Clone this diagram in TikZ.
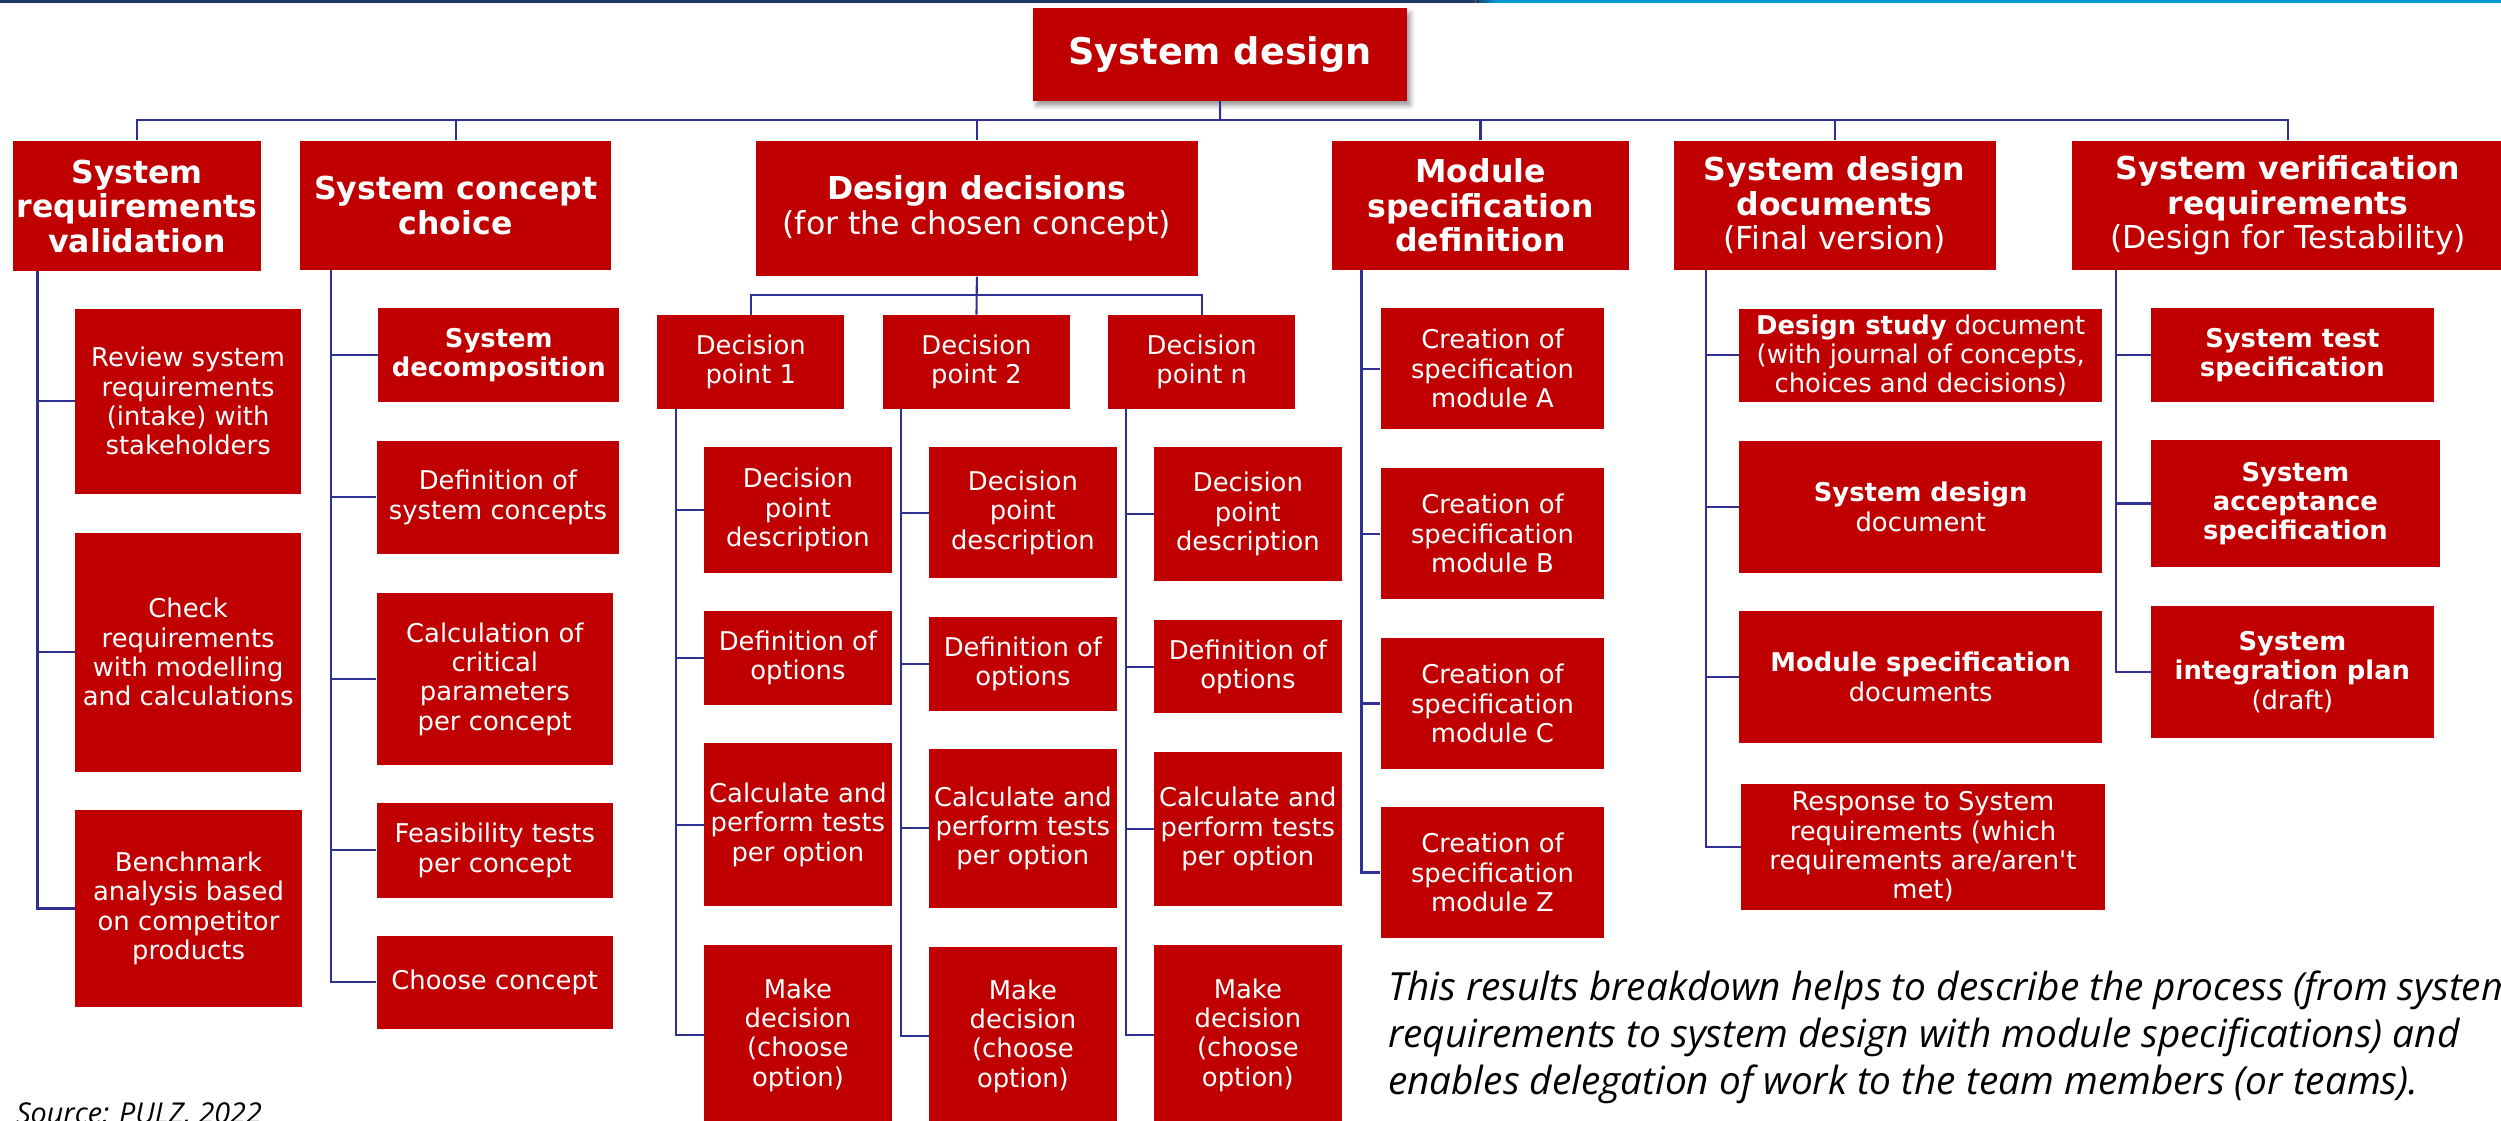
\documentclass[tikz,border=0pt]{standalone}
\usepackage{fontspec}
\setmainfont{DejaVu Sans}[Ligatures=TeXOff]
\newfontfamily\capfont{Open Sans}
\usetikzlibrary{shadows.blur}
\definecolor{boxred}{RGB}{192,0,0}
\definecolor{conncol}{RGB}{46,49,146}
\definecolor{barnavy}{RGB}{31,56,100}
\definecolor{barblue}{RGB}{0,153,214}
\newcommand{\bodyfont}{\fontsize{16.2}{18.4}\selectfont}
\newcommand{\headfont}{\fontsize{19.8}{21.6}\selectfont\bfseries}
\newcommand{\bx}[7][]{\node[rbox,minimum width={#5-#3},minimum height={#6-#4},#1] (#2) at (#3,#4) {#7};}
\begin{document}
\begin{tikzpicture}[x=1pt,y=-1pt,
  rbox/.style={fill=boxred,text=white,inner sep=0pt,align=center,font=\bodyfont,anchor=north west},
  hbox/.style={font=\headfont},
  link/.style={draw=conncol,line width=1.3pt},
  notefont/.style={font=\capfont\itshape\fontsize{24.3}{30}\selectfont,anchor=base west,inner sep=0pt}]
\useasboundingbox (0,0) rectangle (1568,702.2);
\clip (0,0) rectangle (1568,702.2);
% top bar
\fill[barnavy] (0,0) rectangle (925,1.7);
\shade[left color=barnavy,right color=barblue] (925,0) rectangle (938,1.7);
\fill[barblue] (938,0) rectangle (1568,1.7);
% root
\bx[font=\fontsize{23}{26}\selectfont\bfseries,blur shadow={shadow xshift=2pt,shadow yshift=-3pt,shadow blur radius=3pt}]{root}{647.5}{5}{882}{63}{System design}
% level 1
\bx[hbox]{hA}{8}{88}{163.5}{170}{System\\requirements\\validation}
\bx[hbox]{hB}{188}{88}{383}{169}{System concept\\choice}
\bx[hbox]{hC}{473.5}{88}{751}{173}{Design decisions\\{\mdseries(for the chosen concept)}}
\bx[hbox]{hD}{835}{88}{1021}{169}{Module\\specification\\definition}
\bx[hbox]{hE}{1049}{88}{1251}{169}{System design\\documents\\{\mdseries(Final version)}}
\bx[hbox]{hF}{1298.7}{88}{1570}{169}{System verification\\requirements\\{\mdseries(Design for Testability)}}
% column A
\bx{a1}{47}{193.6}{188.5}{309.2}{Review system\\requirements\\(intake) with\\stakeholders}
\bx{a2}{47}{334}{188.5}{483.5}{Check\\requirements\\with modelling\\and calculations}
\bx{a3}{47}{507.7}{189}{631}{Benchmark\\analysis based\\on competitor\\products}
% column B
\bx{b1}{237}{193}{388}{252.1}{\textbf{System}\\\textbf{decomposition}}
\bx{b2}{236}{276}{388}{347.2}{Definition of\\system concepts}
\bx{b3}{236}{371.7}{384}{479.5}{Calculation of\\critical\\parameters\\per concept}
\bx{b4}{236}{503.4}{384}{562.5}{Feasibility tests\\per concept}
\bx{b5}{236}{586.3}{384}{645.1}{Choose concept}
% column C
\bx{dp1}{412}{197.3}{529}{256.1}{Decision\\point 1}
\bx{dp2}{553.5}{197.3}{670.5}{256.1}{Decision\\point 2}
\bx{dpn}{694.6}{197.3}{811.8}{256.1}{Decision\\point n}
\bx{d1a}{441.3}{280.3}{558.8}{358.9}{Decision\\point\\description}
\bx{d1b}{441.3}{383.1}{558.8}{441.5}{Definition of\\options}
\bx{d1c}{441.3}{465.7}{558.8}{567.8}{Calculate and\\perform tests\\per option}
\bx{d1d}{441.3}{592.4}{558.8}{705}{Make\\decision\\(choose\\option)}
\bx{d2a}{582.4}{280.3}{699.8}{362}{Decision\\point\\description}
\bx{d2b}{582.4}{386.8}{699.8}{445.6}{Definition of\\options}
\bx{d2c}{582.4}{469.4}{699.8}{568.8}{Calculate and\\perform tests\\per option}
\bx{d2d}{582.4}{593.7}{699.8}{705}{Make\\decision\\(choose\\option)}
\bx{dna}{723.4}{280.3}{840.9}{364}{Decision\\point\\description}
\bx{dnb}{723.4}{388.8}{840.9}{446.6}{Definition of\\options}
\bx{dnc}{723.4}{471.4}{840.9}{567.8}{Calculate and\\perform tests\\per option}
\bx{dnd}{723.4}{592.4}{840.9}{705}{Make\\decision\\(choose\\option)}
% column D
\bx{mA}{865.4}{193.1}{1005.6}{268.7}{Creation of\\specification\\module A}
\bx{mB}{865.4}{293.3}{1005.6}{375.3}{Creation of\\specification\\module B}
\bx{mC}{865.4}{400}{1005.6}{481.7}{Creation of\\specification\\module C}
\bx{mZ}{865.4}{505.8}{1005.6}{587.8}{Creation of\\specification\\module Z}
% column E
\bx{e1}{1090.2}{193.7}{1317.8}{251.6}{\textbf{Design study} document\\(with journal of concepts,\\choices and decisions)}
\bx{e2}{1090.2}{276.5}{1317.8}{358.8}{\textbf{System design}\\document}
\bx{e3}{1090.2}{382.9}{1317.8}{465.5}{\textbf{Module specification}\\documents}
\bx{e4}{1091.6}{491.5}{1319.2}{570.1}{Response to System\\requirements (which\\requirements are/aren't\\met)}
% column F
\bx{f1}{1348.5}{193.1}{1525.5}{251.6}{\textbf{System test}\\\textbf{specification}}
\bx{f2}{1348.5}{275.7}{1529.3}{355.2}{\textbf{System}\\\textbf{acceptance}\\\textbf{specification}}
\bx{f3}{1348.5}{379.8}{1525.5}{462.4}{\textbf{System}\\\textbf{integration plan}\\(draft)}
% connectors: top bus
\coordinate (bus) at (765,75.2);
\draw[link] (root.south) -- (bus);
\draw[link] (hA.north) |- (bus) -| (hF.north);
\draw[link] (bus -| hB.north) -- (hB.north);
\draw[link] (bus -| hC.north) -- (hC.north);
\draw[link] (bus -| hD.north) -- (hD.north);
\draw[link] (bus -| hE.north) -- (hE.north);
% decision bus
\coordinate (cbus) at (612,185);
\draw[link] (hC.south) -- (dp2.north);
\draw[link] (dp1.north) |- (cbus) -| (dpn.north);
% stems
\coordinate (sA) at (23.5,170);
\coordinate (sB) at (207.4,169);
\coordinate (s1) at (423.8,256.1);
\coordinate (s2) at (565.1,256.1);
\coordinate (sn) at (706.1,256.1);
\coordinate (sD) at (853.6,169);
\coordinate (sE) at (1069.4,169);
\coordinate (sF) at (1326.7,169);
\foreach \s/\t in {sA/a1,sA/a2,sA/a3,sB/b1,sB/b2,sB/b3,sB/b4,sB/b5,
  s1/d1a,s1/d1b,s1/d1c,s1/d1d,s2/d2a,s2/d2b,s2/d2c,s2/d2d,sn/dna,sn/dnb,sn/dnc,sn/dnd,
  sD/mA,sD/mB,sD/mC,sD/mZ,sE/e1,sE/e2,sE/e3,sE/e4,sF/f1,sF/f2,sF/f3}
  \draw[link] (\s) |- (\t.west);
% notes
\node[notefont] (note1) at (870,627) {This results breakdown helps to describe the process (from system};
\node[notefont] (note2) at (870,656.5) {requirements to system design with module specifications) and};
\node[notefont] (note3) at (870,686) {enables delegation of work to the team members (or teams).};
\node[font=\capfont\itshape\fontsize{18}{22}\selectfont,anchor=base west,inner sep=0pt] (src) at (10,704.5) {Source: PULZ, 2022};
\end{tikzpicture}
\end{document}
